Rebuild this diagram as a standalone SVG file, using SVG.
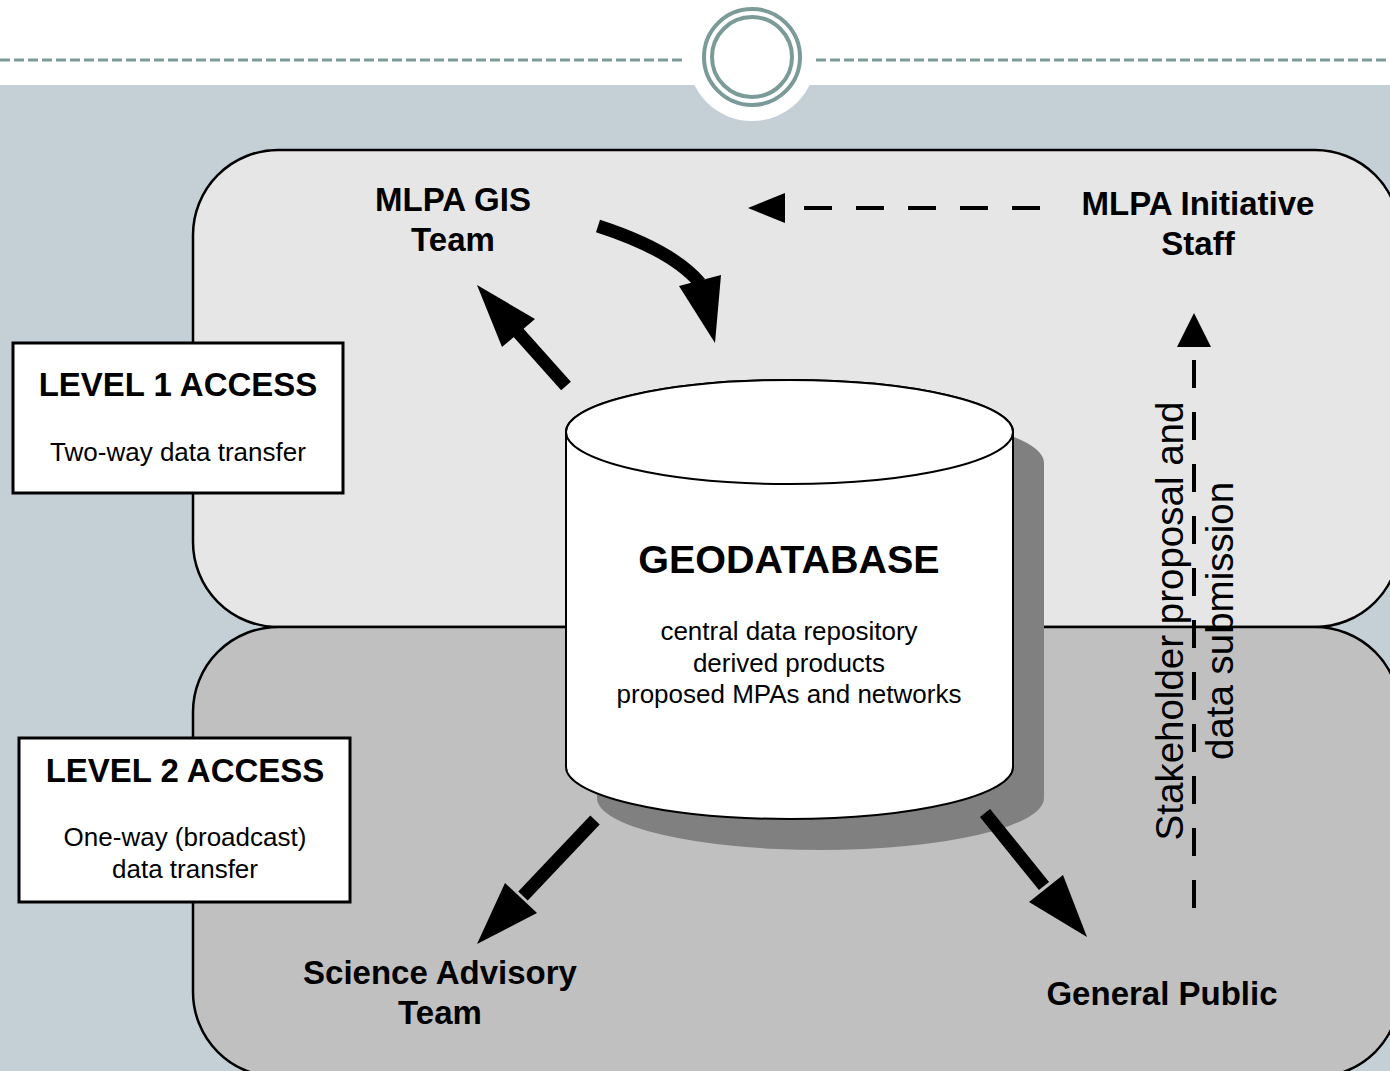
<svg xmlns="http://www.w3.org/2000/svg" width="1390" height="1071" viewBox="0 0 1390 1071">
<style>
.bold{font-family:"Liberation Sans",Arial,sans-serif;font-weight:bold;font-size:33px;fill:#000;text-anchor:middle}
.reg{font-family:"Liberation Sans",Arial,sans-serif;font-size:26px;fill:#000;text-anchor:middle}
.vert{font-family:"Liberation Sans",Arial,sans-serif;font-size:38.5px;fill:#000;text-anchor:middle}
.region{stroke:#000;stroke-width:2.5}
.box{fill:#fff;stroke:#000;stroke-width:3}
.shaft{fill:none;stroke:#000;stroke-width:13}
.dash{fill:none;stroke:#000;stroke-width:4;stroke-dasharray:28 24}
</style>
<g id="background">
<rect x="0" y="0" width="1390" height="1071" fill="#fff"/>
<rect x="0" y="85" width="1390" height="986" fill="#C5D0D6"/>
<circle cx="752" cy="57" r="64" fill="#fff"/>
<line x1="0" y1="60" x2="686" y2="60" stroke="#7B9B98" stroke-width="3" stroke-dasharray="10 4"/>
<line x1="816" y1="60" x2="1390" y2="60" stroke="#7B9B98" stroke-width="3" stroke-dasharray="10 4"/>
<circle cx="752" cy="57" r="48" fill="#fff" stroke="#7B9B98" stroke-width="4"/>
<circle cx="752" cy="57" r="40" fill="none" stroke="#7B9B98" stroke-width="4"/>
</g>
<g id="level1-region">
<rect class="region" x="193" y="150" width="1207" height="477" rx="85" ry="85" fill="#E6E6E6"/>
</g>
<g id="level2-region">
<rect class="region" x="193" y="627" width="1207" height="450" rx="85" ry="85" fill="#C0C0C0"/>
</g>
<g id="level1-box">
<rect class="box" x="13" y="343" width="330" height="150"/>
<text class="bold" x="178" y="396">LEVEL 1 ACCESS</text>
<text class="reg" x="178" y="461">Two-way data transfer</text>
</g>
<g id="level2-box">
<rect class="box" x="19" y="738" width="331" height="164"/>
<text class="bold" x="185" y="782">LEVEL 2 ACCESS</text>
<text class="reg" x="185" y="846">One-way (broadcast)</text>
<text class="reg" x="185" y="878">data transfer</text>
</g>
<g id="geodatabase">
<path d="M597 463 L597 798 A223.5 52 0 0 0 1044 798 L1044 463 A223.5 52 0 0 0 597 463 Z" fill="#808080"/>
<path d="M566 432 L566 767 A223.5 52 0 0 0 1013 767 L1013 432 A223.5 52 0 0 0 566 432 Z" fill="#fff" stroke="#000" stroke-width="2"/>
<ellipse cx="789.5" cy="432" rx="223.5" ry="52" fill="#fff" stroke="#000" stroke-width="2"/>
<text class="bold" x="789" y="573" style="font-size:39.5px">GEODATABASE</text>
<text class="reg" x="789" y="640">central data repository</text>
<text class="reg" x="789" y="672">derived products</text>
<text class="reg" x="789" y="703">proposed MPAs and networks</text>
</g>
<g id="mlpa-gis-team">
<text class="bold" x="453" y="211">MLPA GIS</text>
<text class="bold" x="453" y="251">Team</text>
</g>
<g id="mlpa-initiative-staff">
<text class="bold" x="1198" y="215">MLPA Initiative</text>
<text class="bold" x="1198" y="255">Staff</text>
</g>
<g id="science-advisory-team">
<text class="bold" x="440" y="984">Science Advisory</text>
<text class="bold" x="440" y="1024">Team</text>
</g>
<g id="general-public">
<text class="bold" x="1162" y="1005">General Public</text>
</g>
<g id="connectors">
<path class="shaft" d="M598 226 Q672 250 700 283"/>
<polygon points="679,286 721,275 715,343"/>
<line class="shaft" x1="566" y1="386" x2="516" y2="330"/>
<polygon points="477,285 502,347 535,319"/>
<line class="shaft" x1="595" y1="820" x2="523" y2="896"/>
<polygon points="477,944 505,883 537,913"/>
<line class="shaft" x1="985" y1="813" x2="1044" y2="886"/>
<polygon points="1087,937 1029,902 1063,875"/>
<line class="dash" x1="1040" y1="208" x2="800" y2="208"/>
<polygon points="748,208 785,193 785,223"/>
<text class="vert" x="1183" y="621" transform="rotate(-90 1183 621)">Stakeholder proposal and</text>
<text class="vert" x="1233" y="621" transform="rotate(-90 1233 621)">data submission</text>
<line class="dash" x1="1194" y1="360" x2="1194" y2="910"/>
<polygon points="1194,313 1177,347 1211,347"/>
</g>
</svg>
